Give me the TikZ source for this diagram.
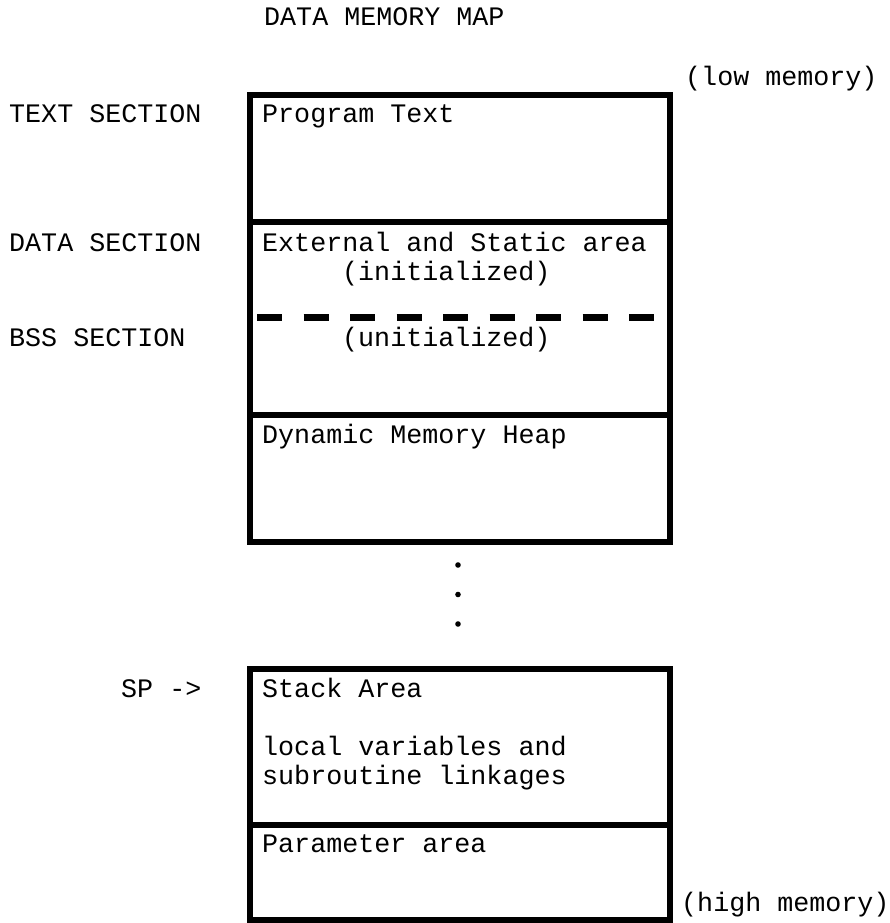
\documentclass[tikz,border=0pt]{standalone}
\usepackage{fontspec}
\setmonofont{Liberation Mono}
\begin{document}
\begin{tikzpicture}[x=1pt,y=-1pt,line join=miter,
    lbl/.style={anchor=base west,inner sep=0pt,font=\ttfamily\fontsize{26.7}{29}\selectfont},
    frame/.style={line width=6pt}]
  \useasboundingbox (0,0) rectangle (890,923);

  % upper block: text, data, bss, heap
  \coordinate (UA) at (250,95);
  \coordinate (UB) at (669.5,95);
  \coordinate (UC) at (669.5,542);
  \coordinate (UD) at (250,542);
  \coordinate (S1l) at (250,221.5);
  \coordinate (S1r) at (669.5,221.5);
  \coordinate (S2l) at (250,414.5);
  \coordinate (S2r) at (669.5,414.5);
  \coordinate (Bl) at (257,317.5);
  \coordinate (Br) at (660,317.5);

  \draw[frame] (UA)--(UB)--(UC)--(UD)--cycle;
  \draw[frame] (S1l)--(S1r);
  \draw[frame] (S2l)--(S2r);
  \draw[line width=7.5pt,dash pattern=on 25pt off 21.5pt] (Bl)--(Br);

  % dots between the blocks
  \foreach \y in {565,594.5,624}
    \fill (458,\y) circle (2.8pt);

  % lower block: stack, parameters
  \coordinate (LA) at (250,669);
  \coordinate (LB) at (669.5,669);
  \coordinate (LC) at (669.5,919.5);
  \coordinate (LD) at (250,919.5);
  \coordinate (S3l) at (250,824.5);
  \coordinate (S3r) at (669.5,824.5);

  \draw[frame] (LA)--(LB)--(LC)--(LD)--cycle;
  \draw[frame] (S3l)--(S3r);

  % labels
  \node[lbl] (title) at (264,26) {DATA MEMORY MAP};
  \node[lbl] (low) at (685,86) {(low memory)};
  \node[lbl] (textsec) at (9,122) {TEXT SECTION};
  \node[lbl] (prog) at (262,122) {Program Text};
  \node[lbl] (datasec) at (9,251) {DATA SECTION};
  \node[lbl] (ext) at (262,251) {External and Static area};
  \node[lbl] (init) at (342,280) {(initialized)};
  \node[lbl] (bsssec) at (9,346) {BSS SECTION};
  \node[lbl] (uninit) at (342,346) {(unitialized)};
  \node[lbl] (heap) at (262,443) {Dynamic Memory Heap};
  \node[lbl] (sp) at (121,697) {SP ->};
  \node[lbl] (stack) at (262,697) {Stack Area};
  \node[lbl] (local) at (262,755) {local variables and};
  \node[lbl] (linkage) at (262,784) {subroutine linkages};
  \node[lbl] (param) at (262,852) {Parameter area};
  \node[lbl] (high) at (681,911) {(high memory)};
\end{tikzpicture}
\end{document}
